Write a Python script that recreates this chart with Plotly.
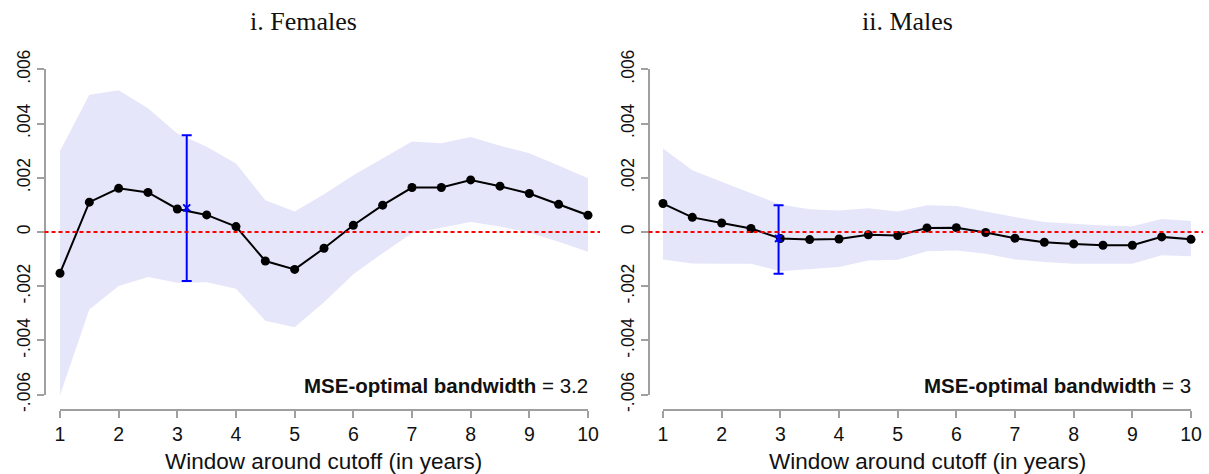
import plotly.graph_objects as go

# Window around the cutoff (years)
windows = [1, 1.5, 2, 2.5, 3, 3.5, 4, 4.5, 5, 5.5, 6, 6.5, 7, 7.5, 8, 8.5, 9, 9.5, 10]

# Females: point estimates and 95% CI bounds
fem_est = [-0.00152, 0.00110, 0.00161, 0.00146, 0.00085, 0.00063, 0.00020, -0.00107, -0.00138, -0.00060,
           0.00025, 0.00099, 0.00164, 0.00164, 0.00192, 0.00169, 0.00142, 0.00102, 0.00062]
fem_hi = [0.00299, 0.00506, 0.00523, 0.00456, 0.00363, 0.00314, 0.00253, 0.00117, 0.00076, 0.00139,
          0.00209, 0.00272, 0.00334, 0.00327, 0.00350, 0.00318, 0.00290, 0.00245, 0.00198]
fem_lo = [-0.00602, -0.00286, -0.00199, -0.00166, -0.00187, -0.00185, -0.00209, -0.00327, -0.00351, -0.00259,
          -0.00156, -0.00078, -0.00005, 0.00015, 0.00037, 0.00020, -0.00003, -0.00036, -0.00073]

# Males: point estimates and 95% CI bounds
male_est = [0.00105, 0.00054, 0.00033, 0.00013, -0.00024, -0.00028, -0.00026, -0.00010, -0.00013, 0.00015,
            0.00016, -0.00002, -0.00023, -0.00038, -0.00044, -0.00049, -0.00049, -0.00018, -0.00027]
male_hi = [0.00308, 0.00228, 0.00185, 0.00144, 0.00101, 0.00084, 0.00079, 0.00088, 0.00076, 0.00099,
           0.00096, 0.00076, 0.00055, 0.00037, 0.00031, 0.00024, 0.00021, 0.00048, 0.00041]
male_lo = [-0.00101, -0.00116, -0.00117, -0.00117, -0.00145, -0.00138, -0.00129, -0.00105, -0.00102, -0.00071,
           -0.00068, -0.00080, -0.00101, -0.00111, -0.00117, -0.00117, -0.00117, -0.00086, -0.00089]

# Estimate at the MSE-optimal bandwidth, with its CI
opt_bw = [3.16, 2.97]
opt_est = [0.00089, -0.00024]
opt_lo = [-0.00181, -0.00154]
opt_hi = [0.00357, 0.00099]

panel_titles = ["i. Females", "ii. Males"]
x_ticks = [1, 2, 3, 4, 5, 6, 7, 8, 9, 10]
y_ticks = [-0.006, -0.004, -0.002, 0, 0.002, 0.004, 0.006]
y_ticktext = ["-.006", "-.004", "-.002", "0", ".002", ".004", ".006"]

W, H = 1209, 474
SANS = "Liberation Sans, Arial, sans-serif"
SERIF = "Liberation Serif, Times New Roman, serif"
AXIS_GREY = "#A0A0A0"
BAND = "rgb(230,230,250)"

def px_x(p):
    return p / W

def px_y(p):
    return 1 - p / H

panels = [
    dict(est=fem_est, lo=fem_lo, hi=fem_hi, xdom=(60, 588), yaxis_px=44.5, line_end=600, title_x=303),
    dict(est=male_est, lo=male_lo, hi=male_hi, xdom=(663, 1191), yaxis_px=648.5, line_end=1203, title_x=907),
]

fig = go.Figure()
shapes = []
annotations = []
layout_axes = {}

for i, p in enumerate(panels):
    n = "" if i == 0 else str(i + 1)
    xa, ya = "x" + n, "y" + n

    # confidence band
    fig.add_trace(go.Scatter(x=windows, y=p["hi"], mode="lines", line=dict(width=0),
                             xaxis=xa, yaxis=ya, hoverinfo="skip", showlegend=False))
    fig.add_trace(go.Scatter(x=windows, y=p["lo"], mode="lines", line=dict(width=0),
                             fill="tonexty", fillcolor=BAND,
                             xaxis=xa, yaxis=ya, hoverinfo="skip", showlegend=False))
    # point estimates
    fig.add_trace(go.Scatter(x=windows, y=p["est"], mode="lines+markers",
                             line=dict(color="black", width=2),
                             marker=dict(color="black", size=9),
                             cliponaxis=False, xaxis=xa, yaxis=ya, showlegend=False))
    # estimate at the optimal bandwidth
    fig.add_trace(go.Scatter(x=[opt_bw[i]], y=[opt_est[i]], mode="markers",
                             marker=dict(symbol="x-thin", size=7, line=dict(color="blue", width=2), color="blue"),
                             error_y=dict(type="data", symmetric=False,
                                          array=[opt_hi[i] - opt_est[i]],
                                          arrayminus=[opt_est[i] - opt_lo[i]],
                                          color="blue", thickness=2, width=5),
                             cliponaxis=False, xaxis=xa, yaxis=ya, showlegend=False))

    layout_axes["xaxis" + n] = dict(
        domain=[px_x(p["xdom"][0]), px_x(p["xdom"][1])], range=[1, 10],
        anchor="free", position=px_y(410), automargin=False,
        showline=True, linecolor=AXIS_GREY, linewidth=1.5,
        ticks="outside", ticklen=7, tickcolor=AXIS_GREY, tickwidth=1.5,
        tickvals=x_ticks, tickfont=dict(family=SANS, size=19.5, color="#111"),
        showgrid=False, zeroline=False, fixedrange=True,
    )
    layout_axes["yaxis" + n] = dict(
        domain=[px_y(394.7), px_y(69.3)], range=[-0.006, 0.006],
        anchor="free", position=px_x(p["yaxis_px"]), automargin=False,
        showline=True, linecolor=AXIS_GREY, linewidth=1.5,
        ticks="outside", ticklen=7, tickcolor=AXIS_GREY, tickwidth=1.5,
        tickvals=y_ticks, ticktext=y_ticktext, tickangle=-90,
        tickfont=dict(family=SANS, size=17.5, color="#111"),
        showgrid=False, zeroline=False, fixedrange=True,
    )

    # reference line at zero
    shapes.append(dict(type="line", xref="paper", yref=ya,
                       x0=px_x(p["yaxis_px"]), x1=px_x(p["line_end"]), y0=0, y1=0,
                       line=dict(color="red", width=2, dash="4px,3px"), layer="above"))

    annotations.append(dict(text=panel_titles[i], xref="paper", yref="paper",
                            x=px_x(p["title_x"]), y=px_y(21),
                            showarrow=False, xanchor="center", yanchor="middle",
                            font=dict(family=SERIF, size=26, color="#111")))
    annotations.append(dict(text="Window around cutoff (in years)", xref="paper", yref="paper",
                            x=px_x((p["xdom"][0] + p["xdom"][1]) / 2), y=px_y(461),
                            showarrow=False, xanchor="center", yanchor="middle",
                            font=dict(family=SANS, size=22.5, color="#111")))
    bw_label = f"{round(opt_bw[i], 1):g}"
    annotations.append(dict(text=f"<b>MSE-optimal bandwidth</b> = {bw_label}",
                            xref=xa, yref="paper", x=10, xshift=2, y=px_y(385),
                            showarrow=False, xanchor="right", yanchor="middle",
                            font=dict(family=SANS, size=20.5, color="#111")))

fig.update_layout(
    width=W, height=H, autosize=False,
    margin=dict(l=0, r=0, t=0, b=0, pad=0, autoexpand=False),
    paper_bgcolor="white", plot_bgcolor="white",
    shapes=shapes, annotations=annotations,
    showlegend=False,
    **layout_axes,
)

fig.write_html("out.html")
